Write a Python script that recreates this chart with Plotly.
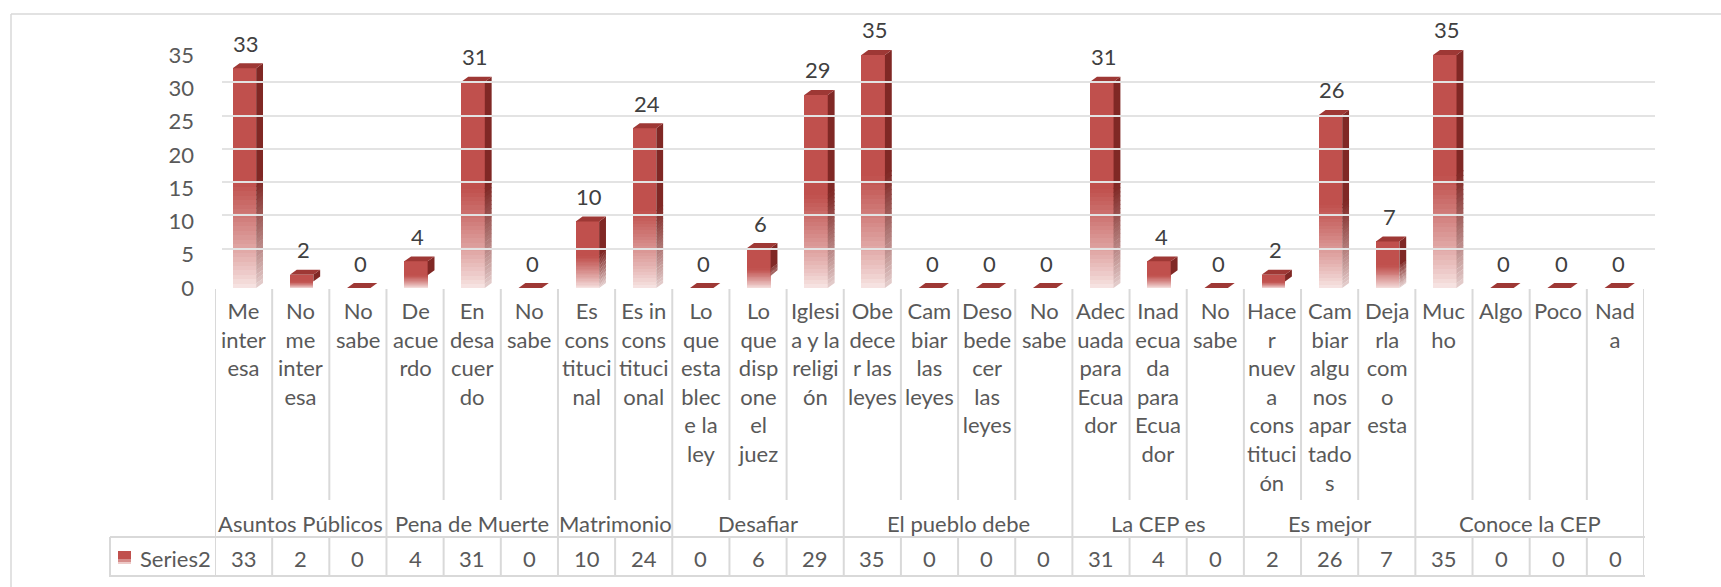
import plotly.graph_objects as go

# ---------------- data ----------------
categories = [
    "Me<br>inter<br>esa", "No<br>me<br>inter<br>esa", "No<br>sabe",
    "De<br>acue<br>rdo", "En<br>desa<br>cuer<br>do", "No<br>sabe",
    "Es<br>cons<br>tituci<br>nal", "Es in<br>cons<br>tituci<br>onal",
    "Lo<br>que<br>esta<br>blec<br>e la<br>ley", "Lo<br>que<br>disp<br>one<br>el<br>juez",
    "Iglesi<br>a y la<br>religi<br>ón",
    "Obe<br>dece<br>r las<br>leyes", "Cam<br>biar<br>las<br>leyes",
    "Deso<br>bede<br>cer<br>las<br>leyes", "No<br>sabe",
    "Adec<br>uada<br>para<br>Ecua<br>dor", "Inad<br>ecua<br>da<br>para<br>Ecua<br>dor", "No<br>sabe",
    "Hace<br>r<br>nuev<br>a<br>cons<br>tituci<br>ón", "Cam<br>biar<br>algu<br>nos<br>apar<br>tado<br>s",
    "Deja<br>rla<br>com<br>o<br>esta",
    "Muc<br>ho", "Algo", "Poco", "Nad<br>a",
]
values = [33, 2, 0, 4, 31, 0, 10, 24, 0, 6, 29, 35, 0, 0, 0, 31, 4, 0, 2, 26, 7, 35, 0, 0, 0]
groups = ["Asuntos Públicos", "Pena de Muerte", "Matrimonio", "Desafiar",
          "El pueblo debe", "La CEP es", "Es mejor", "Conoce la CEP"]
group_sizes = [3, 3, 2, 3, 4, 3, 3, 4]
series_name = "Series2"
y_ticks = [0, 5, 10, 15, 20, 25, 30, 35]

# ---------------- layout geometry ----------------
W, H = 1721, 587
FONT = "Lato"
GRID = "#D9D9D9"
TXT = "#595959"
DARK = "#404040"


def py(px):
    return 1 - px / H


def mix(c0, c1, t):
    return "rgb(%d,%d,%d)" % tuple(round(a + (b - a) * t) for a, b in zip(c0, c1))


RED = (192, 80, 77)
PALE = (248, 232, 231)
SIDE_DARK = (128, 40, 37)
SIDE_PALE = (230, 208, 207)
TOP = (158, 56, 53)

n = len(values)
idx = list(range(n))
BW = 0.41        # front face width (category units)
OFF = -0.19      # front face left edge offset
DX = 0.12        # depth in x (category units)
DY = 0.75        # depth in y (value units)
NG = 24          # gradient steps
SOLID = 0.52     # fraction of bar height that is solid (from top)
FADE = 1 - SOLID

fig = go.Figure()

# invisible trace for the back-wall grid subplot
fig.add_trace(go.Scatter(x=[None], y=[None], xaxis="x2", yaxis="y", showlegend=False,
                         hoverinfo="skip"))

# front face: solid top part
fig.add_trace(go.Bar(x=idx, y=[v * SOLID for v in values], base=[v * FADE for v in values],
                     width=BW, offset=OFF, marker=dict(color=mix(RED, RED, 0), line=dict(width=0)),
                     xaxis="x", yaxis="y2", showlegend=False, hoverinfo="skip"))
# front face: gradient bottom part
for k in range(NG):
    t = ((k + 0.5) / NG) ** 0.85
    fig.add_trace(go.Bar(x=idx, y=[v * FADE / NG * 1.03 for v in values],
                         base=[v * FADE * k / NG for v in values],
                         width=BW, offset=OFF, marker=dict(color=mix(PALE, RED, t), line=dict(width=0)),
                         xaxis="x", yaxis="y2", showlegend=False, hoverinfo="skip"))


def side_poly(f0, f1):
    xs, ys = [], []
    for i, v in enumerate(values):
        if v <= 0:
            continue
        xr = i + OFF + BW
        y0, y1 = v * f0, v * f1
        xs += [xr, xr + DX, xr + DX, xr, xr, None]
        ys += [y0, y0 + DY, y1 + DY, y1, y0, None]
    return xs, ys


xs, ys = side_poly(FADE, 1.0)
fig.add_trace(go.Scatter(x=xs, y=ys, fill="toself", mode="lines", line=dict(width=0),
                         fillcolor=mix(SIDE_DARK, SIDE_DARK, 0), xaxis="x", yaxis="y2",
                         showlegend=False, hoverinfo="skip"))
for k in range(NG):
    t = ((k + 0.5) / NG) ** 0.85
    xs, ys = side_poly(FADE * k / NG, FADE * (k + 1) / NG * 1.01)
    fig.add_trace(go.Scatter(x=xs, y=ys, fill="toself", mode="lines", line=dict(width=0),
                             fillcolor=mix(SIDE_PALE, SIDE_DARK, t), xaxis="x", yaxis="y2",
                             showlegend=False, hoverinfo="skip"))

# top faces
xs, ys = [], []
for i, v in enumerate(values):
    xl = i + OFF
    xr = xl + BW
    xs += [xl, xr, xr + DX, xl + DX, xl, None]
    ys += [v, v, v + DY, v + DY, v, None]
fig.add_trace(go.Scatter(x=xs, y=ys, fill="toself", mode="lines", line=dict(width=0),
                         fillcolor=mix(TOP, TOP, 0), xaxis="x", yaxis="y2",
                         showlegend=False, hoverinfo="skip"))

# ---------------- annotations ----------------
ann = []
for i, v in enumerate(values):
    ann.append(dict(x=i + 0.05, y=v, xref="x", yref="y2", text=str(v), showarrow=False,
                    yanchor="middle", yshift=25, font=dict(family=FONT, size=22, color=DARK)))
for i, c in enumerate(categories):
    ann.append(dict(x=i, y=py(295), xref="x", yref="paper", text=c, showarrow=False,
                    yanchor="top", font=dict(family=FONT, size=22, color=TXT)))
    ann.append(dict(x=i, y=py(558), xref="x", yref="paper", text=str(values[i]), showarrow=False,
                    yanchor="middle", font=dict(family=FONT, size=22, color=TXT)))
start = 0
bounds = [0]
for g, s in zip(groups, group_sizes):
    ann.append(dict(x=start + (s - 1) / 2, y=py(523), xref="x", yref="paper", text=g,
                    showarrow=False, yanchor="middle", font=dict(family=FONT, size=22, color=TXT)))
    start += s
    bounds.append(start)
ann.append(dict(x=138 / W, y=py(558), xref="paper", yref="paper", text=series_name,
                showarrow=False, xanchor="left", yanchor="middle",
                font=dict(family=FONT, size=22, color=TXT)))

# ---------------- shapes ----------------
shapes = []
line = dict(color=GRID, width=2)
for k in range(n + 1):
    xb = k - 0.5
    if k in bounds:
        shapes.append(dict(type="line", xref="x", yref="paper", x0=xb, x1=xb,
                           y0=py(289), y1=py(577), line=line))
    else:
        shapes.append(dict(type="line", xref="x", yref="paper", x0=xb, x1=xb,
                           y0=py(289), y1=py(500), line=line))
        shapes.append(dict(type="line", xref="x", yref="paper", x0=xb, x1=xb,
                           y0=py(537), y1=py(577), line=line))
for yy in (537, 576):
    shapes.append(dict(type="line", xref="paper", yref="paper", x0=110 / W, x1=1645 / W,
                       y0=py(yy), y1=py(yy), line=line))
shapes.append(dict(type="line", xref="paper", yref="paper", x0=110 / W, x1=110 / W,
                   y0=py(537), y1=py(577), line=line))
# legend key
shapes.append(dict(type="rect", xref="paper", yref="paper", x0=118 / W, x1=131 / W,
                   y0=py(559), y1=py(551), line=dict(width=0), fillcolor=mix(RED, RED, 0)))
shapes.append(dict(type="rect", xref="paper", yref="paper", x0=118 / W, x1=131 / W,
                   y0=py(562), y1=py(559), line=dict(width=0), fillcolor=mix(PALE, RED, 0.6)))
shapes.append(dict(type="rect", xref="paper", yref="paper", x0=118 / W, x1=131 / W,
                   y0=py(564), y1=py(562), line=dict(width=0), fillcolor=mix(PALE, RED, 0.2)))
# outer chart border
shapes.append(dict(type="line", xref="paper", yref="paper", x0=11 / W, x1=1, y0=py(14), y1=py(14),
                   line=dict(color="#D9D9D9", width=1.5)))
shapes.append(dict(type="line", xref="paper", yref="paper", x0=11 / W, x1=11 / W, y0=py(14), y1=0,
                   line=dict(color="#D9D9D9", width=1.5)))

# ---------------- axes ----------------
fig.update_layout(
    width=W, height=H,
    margin=dict(l=0, r=0, t=0, b=0, pad=0, autoexpand=False),
    paper_bgcolor="white", plot_bgcolor="rgba(0,0,0,0)",
    barmode="overlay", bargap=0,
    showlegend=False,
    xaxis=dict(domain=[215 / W, 1644 / W], range=[-0.5, n - 0.5], showgrid=False,
               zeroline=False, showticklabels=False, showline=False, anchor="y2",
               automargin=False),
    xaxis2=dict(domain=[222 / W, 1655 / W], range=[0, 1], showgrid=False, zeroline=False,
                showticklabels=False, showline=False, anchor="y", automargin=False),
    yaxis=dict(domain=[py(282.07), py(48.93)], range=[-0.01, 35.01], anchor="x2",
               tickvals=y_ticks, showticklabels=False, showgrid=True, gridcolor="#E3E3E3",
               gridwidth=1.5, zeroline=False, showline=False, automargin=False),
    yaxis2=dict(domain=[py(288), py(45)], range=[0, (288 - 45) / 6.657], anchor="x",
                tickvals=y_ticks, showgrid=False, zeroline=False, showline=False,
                ticklabelstandoff=20, automargin=False,
                tickfont=dict(family=FONT, size=22, color=TXT)),
    annotations=ann,
    shapes=shapes,
)

fig.write_html(
    "out.html",
    config={"responsive": False, "displayModeBar": False},
    post_script=(
        "var gd=document.getElementById('{plot_id}');"
        "gd.style.position='fixed';gd.style.top='0px';gd.style.left='0px';"
        "document.documentElement.style.margin='0';document.body.style.margin='0';"
        "document.documentElement.style.overflow='hidden';document.body.style.overflow='hidden';"
    ),
)
